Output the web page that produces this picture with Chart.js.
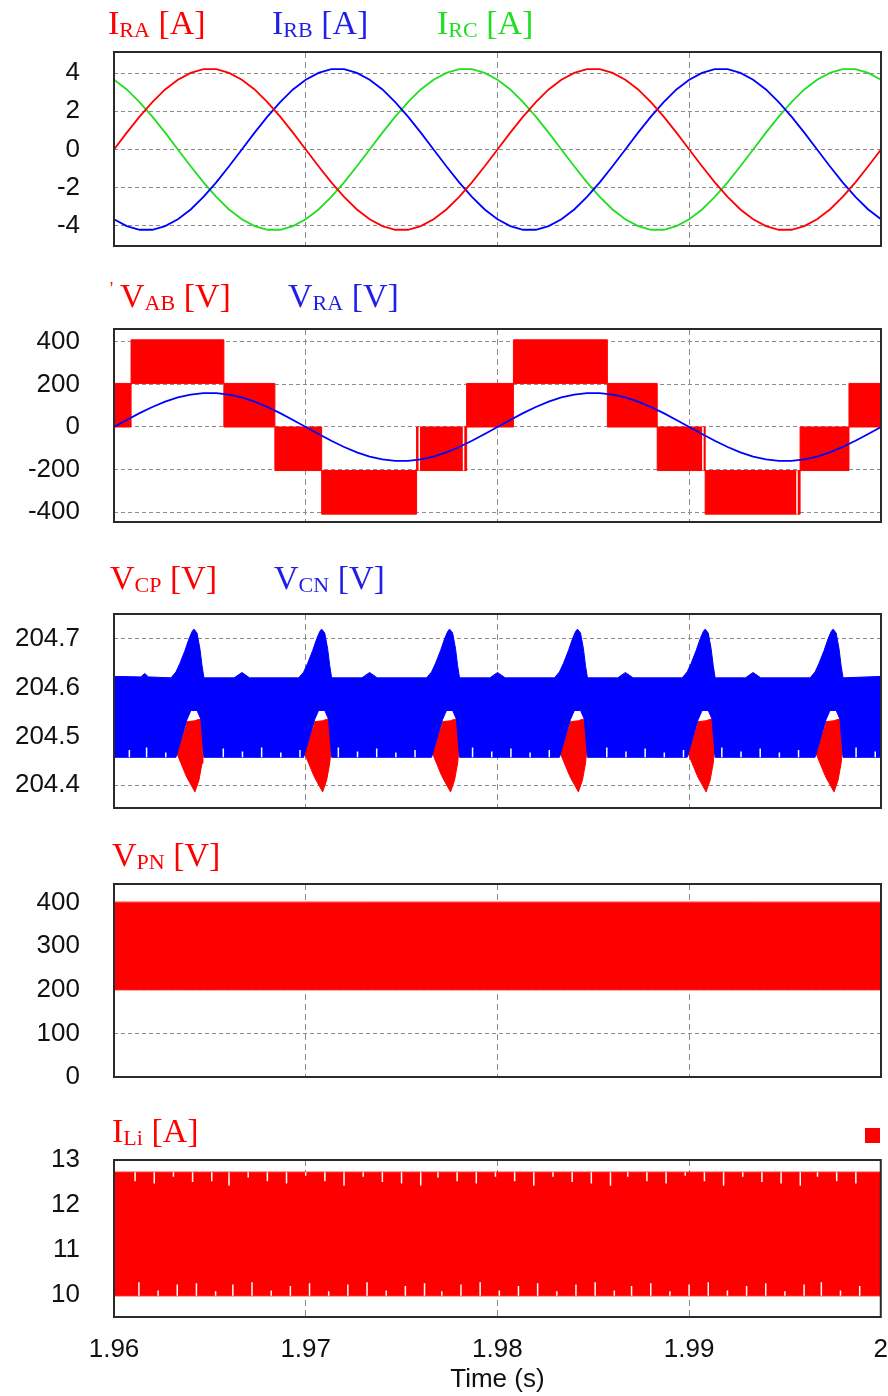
<!DOCTYPE html>
<html>
<head>
<meta charset="utf-8">
<script src="https://cdn.jsdelivr.net/npm/chart.js"></script>
<style>
  body { margin: 0; background: #fff; width: 888px; height: 1396px; position: relative; overflow: hidden; }
  canvas { position: absolute; left: 0; }
  .ttl { position: absolute; z-index: 2; font-family: "Liberation Serif", "Times New Roman", serif; font-size: 34px; line-height: 1; white-space: nowrap; }
  .ttl sub { font-size: 22px; vertical-align: baseline; position: relative; top: 3px; }
  .red { color: #ff0000; } .blue { color: #1f1fe8; } .green { color: #22dd22; }
  #mark { position: absolute; left: 865px; top: 1128px; width: 15px; height: 15px; background: #ff0000; }
</style>
</head>
<body>
<div class="ttl red" style="left:108px;top:6px">I<sub>RA</sub> [A]</div>
<div class="ttl blue" style="left:272px;top:6px">I<sub>RB</sub> [A]</div>
<div class="ttl green" style="left:437px;top:6px">I<sub>RC</sub> [A]</div>
<div class="ttl red" style="left:110px;top:280px;font-size:18px">'</div>
<div class="ttl red" style="left:120px;top:279px">V<sub>AB</sub> [V]</div>
<div class="ttl blue" style="left:288px;top:279px">V<sub>RA</sub> [V]</div>
<div class="ttl red" style="left:110px;top:561px">V<sub>CP</sub> [V]</div>
<div class="ttl blue" style="left:274px;top:561px">V<sub>CN</sub> [V]</div>
<div class="ttl red" style="left:112px;top:838px">V<sub>PN</sub> [V]</div>
<div class="ttl red" style="left:112px;top:1114px">I<sub>Li</sub> [A]</div>
<div id="mark"></div>

<canvas id="c1"></canvas>
<canvas id="c2"></canvas>
<canvas id="c3"></canvas>
<canvas id="c4"></canvas>
<canvas id="c5"></canvas>

<script>
// time axis
const timeTicks = [1.96, 1.97, 1.98, 1.99, 2.0];
const timeTickLabels = ['1.96', '1.97', '1.98', '1.99', '2'];

// sample times for the sinusoidal traces
const sinT = [1.96, 1.960667, 1.961333, 1.962, 1.962667, 1.963333, 1.964, 1.964667, 1.965333, 1.966,
  1.966667, 1.967333, 1.968, 1.968667, 1.969333, 1.97, 1.970667, 1.971333, 1.972, 1.972667,
  1.973333, 1.974, 1.974667, 1.975333, 1.976, 1.976667, 1.977333, 1.978, 1.978667, 1.979333,
  1.98, 1.980667, 1.981333, 1.982, 1.982667, 1.983333, 1.984, 1.984667, 1.985333, 1.986,
  1.986667, 1.987333, 1.988, 1.988667, 1.989333, 1.99, 1.990667, 1.991333, 1.992, 1.992667,
  1.993333, 1.994, 1.994667, 1.995333, 1.996, 1.996667, 1.997333, 1.998, 1.998667, 1.999333, 2.0];

// panel 1: grid currents
const iRA = [0, 0.88, 1.72, 2.48, 3.14, 3.65, 4.01, 4.2, 4.2, 4.01, 3.65, 3.14, 2.48, 1.72, 0.88,
  0, -0.88, -1.72, -2.48, -3.14, -3.65, -4.01, -4.2, -4.2, -4.01, -3.65, -3.14, -2.48, -1.72, -0.88,
  0, 0.88, 1.72, 2.48, 3.14, 3.65, 4.01, 4.2, 4.2, 4.01, 3.65, 3.14, 2.48, 1.72, 0.88,
  0, -0.88, -1.72, -2.48, -3.14, -3.65, -4.01, -4.2, -4.2, -4.01, -3.65, -3.14, -2.48, -1.72, -0.88, 0];
const iRB = [-3.65, -4.01, -4.2, -4.2, -4.01, -3.65, -3.14, -2.48, -1.72, -0.88,
  0, 0.88, 1.72, 2.48, 3.14, 3.65, 4.01, 4.2, 4.2, 4.01,
  3.65, 3.14, 2.48, 1.72, 0.88, 0, -0.88, -1.72, -2.48, -3.14,
  -3.65, -4.01, -4.2, -4.2, -4.01, -3.65, -3.14, -2.48, -1.72, -0.88,
  0, 0.88, 1.72, 2.48, 3.14, 3.65, 4.01, 4.2, 4.2, 4.01,
  3.65, 3.14, 2.48, 1.72, 0.88, 0, -0.88, -1.72, -2.48, -3.14, -3.65];
const iRC = [3.65, 3.14, 2.48, 1.72, 0.88, 0, -0.88, -1.72, -2.48, -3.14,
  -3.65, -4.01, -4.2, -4.2, -4.01, -3.65, -3.14, -2.48, -1.72, -0.88,
  0, 0.88, 1.72, 2.48, 3.14, 3.65, 4.01, 4.2, 4.2, 4.01,
  3.65, 3.14, 2.48, 1.72, 0.88, 0, -0.88, -1.72, -2.48, -3.14,
  -3.65, -4.01, -4.2, -4.2, -4.01, -3.65, -3.14, -2.48, -1.72, -0.88,
  0, 0.88, 1.72, 2.48, 3.14, 3.65, 4.01, 4.2, 4.2, 4.01, 3.65];
const iTicks = [-4, -2, 0, 2, 4];

// panel 2: line voltage (switching band envelopes) and phase voltage
const vabT = [1.96, 1.96089, 1.96573, 1.96839, 1.97083, 1.97578, 1.97839, 1.98083, 1.98573, 1.98833, 1.99083, 1.99578, 1.99833, 2.0];
const vabHigh = [205, 410, 205, 0, -205, 0, 205, 410, 205, 0, -205, 0, 205, 205];
const vabLow = [0, 205, 0, -205, -410, -205, 0, 205, 0, -205, -410, -205, 0, 0];
// thin white gaps inside some switching blocks
const vabGapT = [1.97592, 1.97823, 1.99071, 1.99562];
const vabGapTop = [0, 0, 0, -205];
const vabGapBot = [-205, -205, -205, -410];
const vRA = [0, 33, 65, 94, 119, 139, 152, 159, 159, 152, 139, 119, 94, 65, 33,
  0, -33, -65, -94, -119, -139, -152, -159, -159, -152, -139, -119, -94, -65, -33,
  0, 33, 65, 94, 119, 139, 152, 159, 159, 152, 139, 119, 94, 65, 33,
  0, -33, -65, -94, -119, -139, -152, -159, -159, -152, -139, -119, -94, -65, -33, 0];
const vTicks = [-400, -200, 0, 200, 400];

// panel 3: capacitor voltages (ripple band envelopes)
const vcnHighT = [1.96, 1.9614, 1.9616, 1.9618,
  1.96297, 1.96323, 1.96344, 1.9637, 1.96391, 1.96407, 1.96417, 1.96433, 1.96448, 1.96459, 1.96469, 1.96627, 1.96667, 1.96707,
  1.96963, 1.96989, 1.9701, 1.97036, 1.97057, 1.97073, 1.97083, 1.97099, 1.97114, 1.97125, 1.97135, 1.97293, 1.97333, 1.97373,
  1.9763, 1.97656, 1.97677, 1.97703, 1.97724, 1.9774, 1.9775, 1.97766, 1.97781, 1.97792, 1.97802, 1.9796, 1.98, 1.9804,
  1.98297, 1.98323, 1.98344, 1.9837, 1.98391, 1.98407, 1.98417, 1.98433, 1.98448, 1.98459, 1.98469, 1.98627, 1.98667, 1.98707,
  1.98963, 1.98989, 1.9901, 1.99036, 1.99057, 1.99073, 1.99083, 1.99099, 1.99114, 1.99125, 1.99135, 1.99293, 1.99333, 1.99373,
  1.9963, 1.99656, 1.99677, 1.99703, 1.99724, 1.9974, 1.9975, 1.99766, 1.99781, 1.99792, 1.99802, 2.0];
const vcnHigh = [204.623, 204.622, 204.629, 204.622,
  204.62, 204.632, 204.65, 204.676, 204.7, 204.715, 204.72, 204.712, 204.68, 204.645, 204.62, 204.62, 204.631, 204.62,
  204.62, 204.632, 204.65, 204.676, 204.7, 204.715, 204.72, 204.712, 204.68, 204.645, 204.62, 204.62, 204.631, 204.62,
  204.62, 204.632, 204.65, 204.676, 204.7, 204.715, 204.72, 204.712, 204.68, 204.645, 204.62, 204.62, 204.631, 204.62,
  204.62, 204.632, 204.65, 204.676, 204.7, 204.715, 204.72, 204.712, 204.68, 204.645, 204.62, 204.62, 204.631, 204.62,
  204.62, 204.632, 204.65, 204.676, 204.7, 204.715, 204.72, 204.712, 204.68, 204.645, 204.62, 204.62, 204.631, 204.62,
  204.62, 204.632, 204.65, 204.676, 204.7, 204.715, 204.72, 204.712, 204.68, 204.645, 204.62, 204.623];
const vcnLowT = [1.96,
  1.96323, 1.96381, 1.96401, 1.96433, 1.96453, 1.96469,
  1.96989, 1.97047, 1.97067, 1.97099, 1.97119, 1.97135,
  1.97656, 1.97714, 1.97734, 1.97766, 1.97786, 1.97802,
  1.98323, 1.98381, 1.98401, 1.98433, 1.98453, 1.98469,
  1.98989, 1.99047, 1.99067, 1.99099, 1.99119, 1.99135,
  1.99656, 1.99714, 1.99734, 1.99766, 1.99786, 1.99802, 2.0];
const vcnLow = [204.457,
  204.457, 204.535, 204.553, 204.553, 204.535, 204.457,
  204.457, 204.535, 204.553, 204.553, 204.535, 204.457,
  204.457, 204.535, 204.553, 204.553, 204.535, 204.457,
  204.457, 204.535, 204.553, 204.553, 204.535, 204.457,
  204.457, 204.535, 204.553, 204.553, 204.535, 204.457,
  204.457, 204.535, 204.553, 204.553, 204.535, 204.457, 204.457];
// white spikes rising from the lower edge of the V_CN band
const vcnSpikeT = [1.9608, 1.9617, 1.9627, 1.9657, 1.9667, 1.9677, 1.9687, 1.9697, 1.9717, 1.9727,
  1.9737, 1.9747, 1.9757, 1.9787, 1.9797, 1.9807, 1.9817, 1.9827, 1.9857, 1.9867,
  1.9877, 1.9887, 1.9897, 1.9917, 1.9927, 1.9937, 1.9947, 1.9957, 1.9987, 1.9997];
const vcnSpikeH = [0.015, 0.02, 0.01, 0.018, 0.012, 0.02, 0.01, 0.015, 0.02, 0.012,
  0.018, 0.01, 0.015, 0.02, 0.012, 0.018, 0.01, 0.015, 0.02, 0.012,
  0.018, 0.01, 0.015, 0.02, 0.012, 0.018, 0.01, 0.015, 0.02, 0.012];
const vcpT = [1.96,
  1.96323, 1.96328, 1.96375, 1.96381, 1.96422, 1.96443, 1.96459, 1.96464, 1.96469,
  1.96989, 1.96994, 1.97041, 1.97047, 1.97088, 1.97109, 1.97125, 1.9713, 1.97135,
  1.97656, 1.97661, 1.97708, 1.97714, 1.97755, 1.97776, 1.97792, 1.97797, 1.97802,
  1.98323, 1.98328, 1.98375, 1.98381, 1.98422, 1.98443, 1.98459, 1.98464, 1.98469,
  1.98989, 1.98994, 1.99041, 1.99047, 1.99088, 1.99109, 1.99125, 1.9913, 1.99135,
  1.99656, 1.99661, 1.99708, 1.99714, 1.99755, 1.99776, 1.99792, 1.99797, 1.99802, 2.0];
const vcpHigh = [204.48,
  204.48, 204.465, 204.52, 204.53, 204.532, 204.535, 204.535, 204.465, 204.48,
  204.48, 204.465, 204.52, 204.53, 204.532, 204.535, 204.535, 204.465, 204.48,
  204.48, 204.465, 204.52, 204.53, 204.532, 204.535, 204.535, 204.465, 204.48,
  204.48, 204.465, 204.52, 204.53, 204.532, 204.535, 204.535, 204.465, 204.48,
  204.48, 204.465, 204.52, 204.53, 204.532, 204.535, 204.535, 204.465, 204.48,
  204.48, 204.465, 204.52, 204.53, 204.532, 204.535, 204.535, 204.465, 204.48, 204.48];
const vcpLow = [204.48,
  204.48, 204.465, 204.42, 204.415, 204.386, 204.41, 204.445, 204.465, 204.48,
  204.48, 204.465, 204.42, 204.415, 204.386, 204.41, 204.445, 204.465, 204.48,
  204.48, 204.465, 204.42, 204.415, 204.386, 204.41, 204.445, 204.465, 204.48,
  204.48, 204.465, 204.42, 204.415, 204.386, 204.41, 204.445, 204.465, 204.48,
  204.48, 204.465, 204.42, 204.415, 204.386, 204.41, 204.445, 204.465, 204.48,
  204.48, 204.465, 204.42, 204.415, 204.386, 204.41, 204.445, 204.465, 204.48, 204.48];
const vcTicks = [204.4, 204.5, 204.6, 204.7];

// panel 4: dc link voltage band
const vpnT = [1.96, 2.0];
const vpnHigh = [402, 402];
const vpnLow = [200, 200];
const vpnTicks = [0, 100, 200, 300, 400];

// panel 5: inductor current band and the white spikes at its edges
const iliT = [1.96, 2.0];
const iliHigh = [12.73, 12.73];
const iliLow = [9.98, 9.98];
const iliTopNotchT = [1.9611, 1.9621, 1.9631, 1.9641, 1.9651, 1.966, 1.967, 1.968, 1.969, 1.97,
  1.971, 1.972, 1.973, 1.974, 1.975, 1.976, 1.9769, 1.9779, 1.9789, 1.9799,
  1.9809, 1.9819, 1.9829, 1.9839, 1.9849, 1.9859, 1.9868, 1.9878, 1.9888, 1.9898,
  1.9908, 1.9918, 1.9928, 1.9938, 1.9948, 1.9958, 1.9967, 1.9977, 1.9987];
const iliTopNotchD = [0.2, 0.25, 0.1, 0.22, 0.2, 0.3, 0.12, 0.2, 0.25, 0.08,
  0.2, 0.3, 0.1, 0.22, 0.25, 0.3, 0.12, 0.2, 0.25, 0.1,
  0.2, 0.3, 0.1, 0.22, 0.25, 0.3, 0.1, 0.2, 0.25, 0.08,
  0.2, 0.3, 0.1, 0.22, 0.25, 0.3, 0.1, 0.2, 0.25];
const iliBotNotchT = [1.9613, 1.9623, 1.9633, 1.9643, 1.9653, 1.9662, 1.9672, 1.9682, 1.9692, 1.9702,
  1.9712, 1.9722, 1.9732, 1.9742, 1.9752, 1.9762, 1.9771, 1.9781, 1.9791, 1.9801,
  1.9811, 1.9821, 1.9831, 1.9841, 1.9851, 1.9861, 1.987, 1.988, 1.989, 1.99,
  1.991, 1.992, 1.993, 1.994, 1.995, 1.996, 1.9969, 1.9979, 1.9989];
const iliBotNotchD = [0.3, 0.12, 0.25, 0.28, 0.1, 0.25, 0.3, 0.12, 0.22, 0.28,
  0.1, 0.25, 0.3, 0.12, 0.22, 0.28, 0.1, 0.25, 0.3, 0.12,
  0.22, 0.28, 0.1, 0.25, 0.3, 0.12, 0.22, 0.28, 0.1, 0.25,
  0.3, 0.12, 0.22, 0.28, 0.1, 0.25, 0.3, 0.12, 0.22];
const iliTicks = [10, 11, 12, 13];

const RED = '#ff0000', BLUE = '#0000ff', GREEN = '#22dd22';

function pts(xs, ys) {
  return xs.map((x, i) => ({ x: x, y: ys[i] }));
}

// vertical segments from tops[i] to bots[i] at ts[i], separated by gaps
function segs(ts, tops, bots) {
  const out = [];
  ts.forEach((t, i) => {
    out.push({ x: t, y: tops[i] }, { x: t, y: bots[i] }, { x: t, y: null });
  });
  return out;
}

// spikes: from a band edge by a depth in the given direction
function spikes(ts, edge, depths, dir) {
  return segs(ts, ts.map(() => edge), depths.map(d => edge + dir * d));
}

const frame = {
  id: 'frame',
  afterDatasetsDraw(chart) {
    const a = chart.chartArea, ctx = chart.ctx;
    ctx.save();
    ctx.strokeStyle = '#2a2a2a';
    ctx.lineWidth = 2;
    ctx.strokeRect(a.left, a.top, a.right - a.left, a.bottom - a.top);
    ctx.restore();
  }
};

const tickFont = { family: '"Liberation Sans", Arial, sans-serif', size: 26 };

function panel(id, top, bottom, yMin, yMax, yTicks, yFmt, datasets, last) {
  const cv = document.getElementById(id);
  const h = last ? 1396 - (top - 20) : bottom - top + 40;
  cv.width = 888;
  cv.height = h;
  cv.style.top = (top - 20) + 'px';

  return new Chart(cv, {
    type: 'line',
    data: { datasets: datasets },
    options: {
      responsive: false,
      animation: false,
      devicePixelRatio: 1,
      events: [],
      layout: { padding: { top: 20, bottom: last ? 0 : 20, left: 0, right: 7 } },
      elements: { point: { radius: 0 }, line: { tension: 0 } },
      plugins: { legend: { display: false }, tooltip: { enabled: false } },
      scales: {
        x: {
          type: 'linear',
          min: 1.96,
          max: 2.0,
          afterBuildTicks: s => { s.ticks = timeTicks.map(v => ({ value: v })); },
          afterFit: s => { s.height = last ? 79 : 0; },
          ticks: {
            display: last,
            padding: 0,
            color: '#111',
            font: tickFont,
            maxRotation: 0,
            callback: (v, i) => timeTickLabels[i]
          },
          // invisible tick marks push the labels below the frame
          grid: { color: '#8c8c8c', lineWidth: 1, drawTicks: last, tickLength: 17, tickColor: 'rgba(0,0,0,0)' },
          border: { display: false, dash: [6, 4] },
          title: {
            display: last,
            text: 'Time (s)',
            color: '#111',
            font: tickFont,
            padding: { top: 0, bottom: 1 }
          }
        },
        y: {
          min: yMin,
          max: yMax,
          afterBuildTicks: s => { s.ticks = yTicks.map(v => ({ value: v })); },
          afterFit: s => { s.width = 114; },
          ticks: { padding: 0, color: '#111', font: tickFont, callback: yFmt },
          grid: { color: '#8c8c8c', lineWidth: 1, drawTicks: true, tickLength: 34, tickColor: 'rgba(0,0,0,0)' },
          border: { display: false, dash: [4, 3] }
        }
      }
    },
    plugins: [frame]
  });
}

const plain = v => String(v);

panel('c1', 52, 246, -5.05, 5.1, iTicks, plain, [
  { data: pts(sinT, iRA), borderColor: RED, borderWidth: 1.8 },
  { data: pts(sinT, iRB), borderColor: BLUE, borderWidth: 1.8 },
  { data: pts(sinT, iRC), borderColor: GREEN, borderWidth: 1.8 }
], false);

panel('c2', 329, 522, -447, 461, vTicks, plain, [
  { data: pts(sinT, vRA), borderColor: BLUE, borderWidth: 1.8 },
  { data: segs(vabGapT, vabGapTop, vabGapBot), borderColor: '#ffffff', borderWidth: 1.5 },
  { data: pts(vabT, vabHigh), borderColor: RED, borderWidth: 1, stepped: true },
  { data: pts(vabT, vabLow), borderColor: RED, borderWidth: 1, stepped: true, fill: '-1', backgroundColor: RED }
], false);

panel('c3', 614, 808, 204.353, 204.751, vcTicks, v => v.toFixed(1), [
  { data: spikes(vcnSpikeT, 204.457, vcnSpikeH, 1), borderColor: '#ffffff', borderWidth: 1.5 },
  { data: pts(vcnHighT, vcnHigh), borderColor: BLUE, borderWidth: 1 },
  { data: pts(vcnLowT, vcnLow), borderColor: BLUE, borderWidth: 1, fill: '-1', backgroundColor: BLUE },
  { data: pts(vcpT, vcpHigh), borderColor: RED, borderWidth: 1 },
  { data: pts(vcpT, vcpLow), borderColor: RED, borderWidth: 1, fill: '-1', backgroundColor: RED }
], false);

panel('c4', 884, 1077, 0, 443, vpnTicks, plain, [
  { data: pts(vpnT, vpnHigh), borderColor: '#ff8a8a', borderWidth: 1 },
  { data: pts(vpnT, vpnLow), borderColor: RED, borderWidth: 1, fill: '-1', backgroundColor: RED }
], false);

panel('c5', 1160, 1317, 9.51, 13.0, iliTicks, plain, [
  { data: spikes(iliTopNotchT, 12.73, iliTopNotchD, -1), borderColor: '#ffffff', borderWidth: 1.5 },
  { data: spikes(iliBotNotchT, 9.98, iliBotNotchD, 1), borderColor: '#ffffff', borderWidth: 1.5 },
  { data: pts(iliT, iliHigh), borderColor: RED, borderWidth: 1 },
  { data: pts(iliT, iliLow), borderColor: RED, borderWidth: 1, fill: '-1', backgroundColor: RED }
], true);
</script>
</body>
</html>
